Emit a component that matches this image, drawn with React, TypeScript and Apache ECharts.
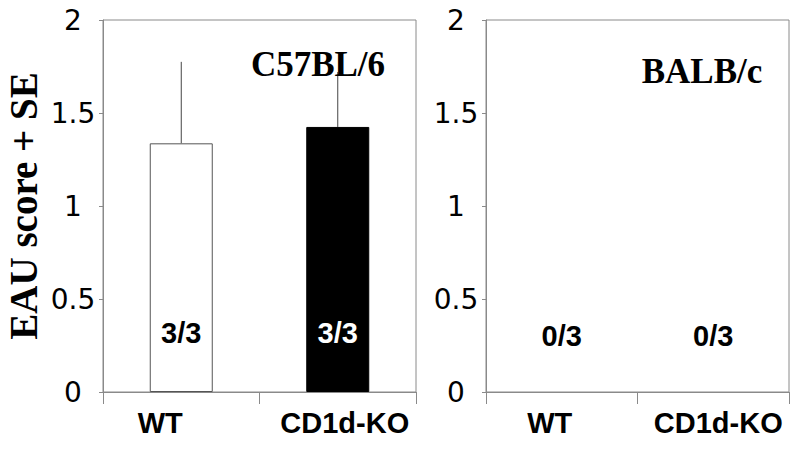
import React, { useEffect, useRef } from "react";
import * as echarts from "echarts";

const categories = ["WT", "CD1d-KO"];
const c57Means = [1.337, 1.425];
const c57ErrTops = [1.775, 1.72];
const c57Counts = ["3/3", "3/3"];
const balbMeans = [0, 0];
const balbCounts = ["0/3", "0/3"];
const yTicks = [0, 0.5, 1, 1.5, 2];
const panelTitles = ["C57BL/6", "BALB/c"];
const yAxisTitle = "EAU score + SE";

const GRAY = "#8a8a8a";

export default function App() {
  const ref = useRef<HTMLDivElement>(null);
  useEffect(() => {
    if (!ref.current) return;
    const chart = echarts.init(ref.current, null, { renderer: "svg" });

    const labelStyle = (shift: number) => ({
      fontFamily: "Liberation Sans, Arial, sans-serif",
      fontWeight: "bold",
      fontSize: 29,
      color: "#000",
      lineHeight: 29,
      padding: shift < 0 ? [0, -2 * shift, 0, 0] : [0, 0, 0, 2 * shift],
    });

    const xAxisBase = (gridIndex: number, shifts: number[]) => ({
      type: "category",
      gridIndex,
      data: categories,
      boundaryGap: true,
      axisLine: { lineStyle: { color: GRAY, width: 1 } },
      axisTick: { show: true, length: 12, lineStyle: { color: GRAY } },
      axisLabel: {
        margin: 16,
        formatter: (v: string, i: number) => `{${"s" + i}|${v}}`,
        rich: { s0: labelStyle(shifts[0]), s1: labelStyle(shifts[1]) },
      },
      splitLine: { show: false },
    });

    const yAxisBase = (gridIndex: number) => ({
      type: "value",
      gridIndex,
      min: yTicks[0],
      max: yTicks[yTicks.length - 1],
      interval: 0.5,
      axisLine: { show: true, lineStyle: { color: GRAY, width: 1 } },
      axisTick: { show: true, length: 4, lineStyle: { color: GRAY } },
      axisLabel: {
        align: "center",
        margin: 30,
        fontFamily: "DejaVu Sans, Verdana, sans-serif",
        fontSize: 28,
        color: "#000",
      },
      splitLine: { show: false },
    });

    const countLabels = (xi: number, yi: number, labels: string[], yPos: number, colors: string[]) => ({
      type: "custom",
      xAxisIndex: xi,
      yAxisIndex: yi,
      data: labels.map((_, i) => [i, yPos]),
      z: 10,
      renderItem: (params: any, api: any) => {
        const i = api.value(0);
        const p = api.coord([i, api.value(1)]);
        return {
          type: "text",
          x: p[0],
          y: p[1],
          style: {
            text: labels[params.dataIndex],
            align: "center",
            verticalAlign: "middle",
            fontFamily: "Liberation Sans, Arial, sans-serif",
            fontWeight: "bold",
            fontSize: 29,
            fill: colors[params.dataIndex],
          },
        };
      },
    });

    const option = {
      animation: false,
      grid: [
        { left: 103, top: 20, width: 313, height: 372, show: true, borderColor: GRAY, borderWidth: 1 },
        { left: 486, top: 20, width: 303, height: 372, show: true, borderColor: GRAY, borderWidth: 1 },
      ],
      xAxis: [xAxisBase(0, [-21, 7]), xAxisBase(1, [-12, 5])],
      yAxis: [yAxisBase(0), yAxisBase(1)],
      graphic: [
        {
          type: "text",
          x: 23,
          y: 206,
          rotation: Math.PI / 2,
          style: {
            text: yAxisTitle,
            align: "center",
            verticalAlign: "middle",
            fontFamily: "Liberation Serif, Times New Roman, serif",
            fontWeight: "bold",
            fontSize: 39,
            fill: "#000",
          },
        },
        {
          type: "text",
          x: 318,
          y: 64.5,
          style: {
            text: panelTitles[0],
            align: "center",
            verticalAlign: "middle",
            fontFamily: "Liberation Serif, Times New Roman, serif",
            fontWeight: "bold",
            fontSize: 35,
            fill: "#000",
          },
          z: 20,
        },
        {
          type: "text",
          x: 702,
          y: 71.5,
          style: {
            text: panelTitles[1],
            align: "center",
            verticalAlign: "middle",
            fontFamily: "Liberation Serif, Times New Roman, serif",
            fontWeight: "bold",
            fontSize: 35,
            fill: "#000",
          },
        },
      ],
      series: [
        {
          type: "bar",
          xAxisIndex: 0,
          yAxisIndex: 0,
          barWidth: 63,
          data: [
            { value: c57Means[0], itemStyle: { color: "#fff", borderColor: "#555", borderWidth: 1 } },
            { value: c57Means[1], itemStyle: { color: "#000", borderColor: "#000", borderWidth: 1 } },
          ],
          z: 2,
        },
        {
          type: "custom",
          xAxisIndex: 0,
          yAxisIndex: 0,
          data: c57Means.map((m, i) => [i, m, c57ErrTops[i]]),
          z: 1,
          renderItem: (params: any, api: any) => {
            const a = api.coord([api.value(0), api.value(1)]);
            const b = api.coord([api.value(0), api.value(2)]);
            return {
              type: "line",
              shape: { x1: a[0], y1: a[1], x2: b[0], y2: b[1] },
              style: { stroke: "#444", lineWidth: 1 },
            };
          },
        },
        countLabels(0, 0, c57Counts, 0.317, ["#000", "#fff"]),
        {
          type: "bar",
          xAxisIndex: 1,
          yAxisIndex: 1,
          barWidth: 63,
          data: balbMeans,
          itemStyle: { color: "#000" },
        },
        countLabels(1, 1, balbCounts, 0.3, ["#000", "#000"]),
      ],
    };
    chart.setOption(option as any);
    return () => chart.dispose();
  }, []);
  return (
    <div
      ref={ref}
      style={{ position: "fixed", left: 0, top: 0, width: 800, height: 452, background: "#fff" }}
    />
  );
}
